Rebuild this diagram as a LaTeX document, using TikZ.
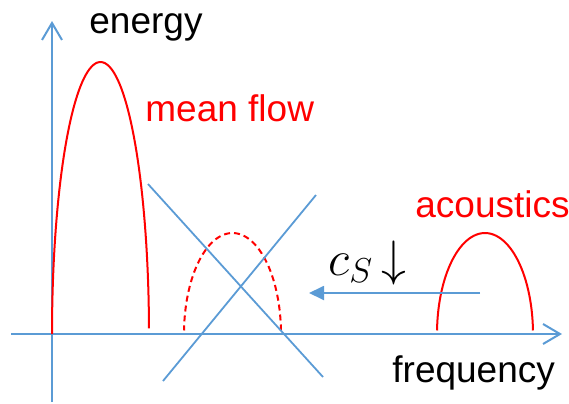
\documentclass[tikz,border=0pt]{standalone}
\usepackage{fontspec}
\setmainfont{Liberation Sans}
\usepackage{tikz}
\usetikzlibrary{arrows.meta,positioning}
\definecolor{axisblue}{HTML}{5B9BD5}
\definecolor{spec}{HTML}{FF0000}

\begin{document}
\begin{tikzpicture}[x=0.5pt,y=-0.5pt,
  axis/.style={axisblue,line width=1pt,-{Straight Barb[length=8.5pt,width=10pt]}},
  guide/.style={axisblue,line width=0.9pt},
  hump/.style={spec,line width=1pt},
  lbl/.style={inner sep=0pt,anchor=base west,font=\fontsize{18.5}{22}\selectfont}]
  \useasboundingbox (0,0) rectangle (569,403);
  % axes
  \coordinate (ybot) at (52,402);
  \coordinate (ytop) at (52,21);
  \coordinate (xleft) at (11,334);
  \coordinate (xright) at (562,334);
  \draw[axis] (ybot)--(ytop);
  \draw[axis] (xleft)--(xright);
  \node[lbl] (energy) at (89,33) {energy};
  \node[lbl] (freq) at (392,382) {frequency};
  % spectra: half ellipses over the axis
  \draw[hump,variable=\t,domain=1.2:180,samples=80] plot ({100.5+48.5*cos(\t)},{334-272*sin(\t)});
  \draw[hump,dashed,dash pattern=on 3pt off 2pt,variable=\t,domain=2:178,samples=60]
    plot ({232.5+48.5*cos(\t)},{334-101*sin(\t)});
  \draw[hump,variable=\t,domain=2:178,samples=60] plot ({485+48*cos(\t)},{334-101*sin(\t)});
  \node[lbl,spec] (mean) at (145,121) {mean flow};
  \node[lbl,spec] (acou) at (415,217) {acoustics};
  % crossed out
  \coordinate (c1a) at (148,184);
  \coordinate (c1b) at (323,377);
  \coordinate (c2a) at (163,381);
  \coordinate (c2b) at (316,195);
  \draw[guide] (c1a)--(c1b);
  \draw[guide] (c2a)--(c2b);
  % shift with lower sound speed
  \coordinate (shiftfrom) at (480,293);
  \coordinate (shiftto) at (309,293);
  \draw[guide,-{Triangle[length=7.5pt,width=7pt]}] (shiftfrom)--(shiftto);
  \node[inner sep=0pt,anchor=base west,font=\fontsize{23}{28}\selectfont] (cs) at (328,275) {$c_S$\hspace{4pt}$\downarrow$};
\end{tikzpicture}
\end{document}
